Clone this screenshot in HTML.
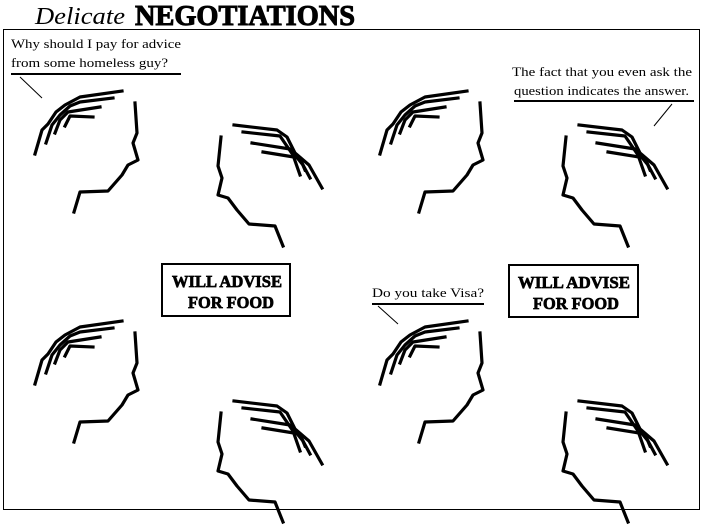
<!DOCTYPE html>
<html><head><style>html,body{margin:0;padding:0;background:#fff}svg{display:block}</style></head>
<body>
<svg width="704" height="527" viewBox="0 0 704 527" xmlns="http://www.w3.org/2000/svg">
<defs>
<g id="hA" fill="none" stroke="#000" stroke-width="3.2" stroke-linejoin="round" stroke-linecap="square">
<polyline points="35,154 42,130 48,124 56,112 65,105 80,97 122,91"/>
<polyline points="46,143 52,125 60,115 70,106 80,102 113,98"/>
<polyline points="55,133 60,120 68,112 100,107"/>
<polyline points="65,126 70,116 93,117"/>
<polyline points="135,103 137,133 133,143 138,160 128,165 122,175 108,191 80,192 74,212"/>
</g>
<g id="hB" fill="none" stroke="#000" stroke-width="3.2" stroke-linejoin="round" stroke-linecap="square">
<polyline points="234,125 277,130 287,137 295,153 309,165 322,188"/>
<polyline points="243,132 280,136 293,155 300,175"/>
<polyline points="252,143 290,149 303,165 310,178"/>
<polyline points="263,152 300,158 305,170"/>
<polyline points="221,137 218,166 222,178 218,195 228,198 237,210 249,224 275,226 283,246"/>
</g>
</defs>
<text x="35" y="24" font-family="Liberation Serif" font-style="italic" font-size="24" textLength="90" lengthAdjust="spacingAndGlyphs">Delicate</text>
<text x="135" y="25" font-family="Liberation Serif" font-weight="bold" font-size="28" stroke="#000" stroke-width="1" textLength="220" lengthAdjust="spacingAndGlyphs">NEGOTIATIONS</text>
<rect x="3.5" y="29.5" width="696" height="480" fill="none" stroke="#000" stroke-width="1"/>
<use href="#hA"/><use href="#hB"/>
<use href="#hA" x="345"/><use href="#hB" x="345"/>
<use href="#hA" y="230"/><use href="#hB" y="276"/>
<use href="#hA" x="345" y="230"/><use href="#hB" x="345" y="276"/>
<g font-family="Liberation Serif" font-size="13">
<text x="11" y="48" textLength="170" lengthAdjust="spacingAndGlyphs">Why should I pay for advice</text>
<text x="11" y="67" textLength="157" lengthAdjust="spacingAndGlyphs">from some homeless guy?</text>
<text x="512" y="76" textLength="180" lengthAdjust="spacingAndGlyphs">The fact that you even ask the</text>
<text x="514" y="95" textLength="175" lengthAdjust="spacingAndGlyphs">question indicates the answer.</text>
<text x="372" y="297" textLength="112" lengthAdjust="spacingAndGlyphs">Do you take Visa?</text>
</g>
<g stroke="#000">
<line x1="11" y1="74" x2="181" y2="74" stroke-width="2"/>
<line x1="20" y1="77" x2="42" y2="98" stroke-width="1"/>
<line x1="514" y1="101" x2="694" y2="101" stroke-width="2"/>
<line x1="672" y1="104" x2="654" y2="126" stroke-width="1"/>
<line x1="372" y1="304" x2="484" y2="304" stroke-width="2"/>
<line x1="378" y1="306" x2="398" y2="324" stroke-width="1"/>
</g>
<rect x="162" y="264" width="128" height="52" fill="none" stroke="#000" stroke-width="2"/>
<rect x="509" y="265" width="129" height="52" fill="none" stroke="#000" stroke-width="2"/>
<g font-family="Liberation Serif" font-weight="bold" font-size="17" stroke="#000" stroke-width="0.7">
<text x="172" y="287" textLength="110" lengthAdjust="spacingAndGlyphs">WILL ADVISE</text>
<text x="188" y="308" textLength="86" lengthAdjust="spacingAndGlyphs">FOR FOOD</text>
<text x="518" y="288" textLength="112" lengthAdjust="spacingAndGlyphs">WILL ADVISE</text>
<text x="533" y="309" textLength="86" lengthAdjust="spacingAndGlyphs">FOR FOOD</text>
</g>
</svg>
</body></html>
